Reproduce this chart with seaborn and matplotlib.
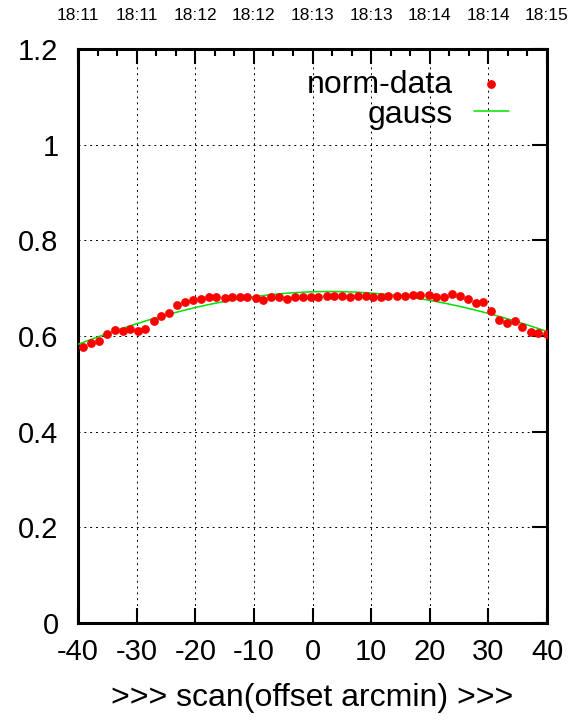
import numpy as np
import pandas as pd
import matplotlib
matplotlib.use("Agg")
import matplotlib.pyplot as plt
import seaborn as sns
from matplotlib.ticker import MultipleLocator

# ---- data ----
offset_arcmin = [-39.2, -37.8, -36.4, -35.1, -33.7, -32.4, -31.1, -29.8, -28.5, -27.0,
                 -25.8, -24.4, -23.1, -21.7, -20.4, -19.0, -17.7, -16.4, -15.0,
                 -13.8, -12.4, -11.1, -9.7, -8.4, -7.0, -5.7, -4.3, -3.0, -1.6,
                 -0.3, 1.0, 2.4, 3.7, 5.1, 6.4, 7.7, 9.1, 10.4, 11.7, 12.9,
                 14.4, 15.7, 17.1, 18.4, 19.8, 21.1, 22.4, 23.8, 25.2, 26.5,
                 27.9, 29.1, 30.4, 31.8, 33.1, 34.5, 35.8, 37.2, 38.5, 39.95]
norm_data = [0.576, 0.585, 0.589, 0.604, 0.613, 0.610, 0.615, 0.610, 0.615, 0.631,
             0.642, 0.649, 0.664, 0.672, 0.675, 0.678, 0.682, 0.682, 0.679,
             0.681, 0.681, 0.682, 0.680, 0.676, 0.681, 0.682, 0.678, 0.681, 0.682,
             0.682, 0.682, 0.684, 0.684, 0.684, 0.682, 0.684, 0.684, 0.682, 0.682, 0.684,
             0.684, 0.683, 0.686, 0.685, 0.686, 0.681, 0.682, 0.687, 0.684, 0.677,
             0.668, 0.671, 0.653, 0.633, 0.628, 0.632, 0.619, 0.609, 0.607, 0.604]
# fitted gaussian parameters
gauss_amp = 0.693
gauss_center = 3.0
gauss_sigma = 73.0

x_ticks = [-40, -30, -20, -10, 0, 10, 20, 30, 40]
y_ticks = [0, 0.2, 0.4, 0.6, 0.8, 1.0, 1.2]
y_tick_labels = ["0", "0.2", "0.4", "0.6", "0.8", "1", "1.2"]
time_labels = ["18:11", "18:11", "18:12", "18:12", "18:13", "18:13", "18:14", "18:14", "18:15"]

sns.set_theme(style="white")
plt.rcParams["font.family"] = ["Liberation Sans", "DejaVu Sans"]
plt.rcParams["text.color"] = "black"
plt.rcParams["axes.labelcolor"] = "black"

df = pd.DataFrame({"offset": offset_arcmin, "value": norm_data})
gx = np.linspace(-40, 40, 400)
gdf = pd.DataFrame({"offset": gx,
                    "value": gauss_amp * np.exp(-(gx - gauss_center) ** 2 / (2 * gauss_sigma ** 2))})

fig = plt.figure(figsize=(5.8, 7.23), dpi=100)
ax = fig.add_axes([78 / 580, 1 - 623 / 723, (547 - 78) / 580, (623 - 49) / 723])

FS = 21

ax.set_xlim(-40, 40)
ax.set_ylim(0, 1.2)
ax.set_xticks(x_ticks)
ax.set_xticklabels([str(t) for t in x_ticks])
ax.set_yticks(y_ticks)
ax.set_yticklabels(y_tick_labels)
ax.grid(True, color="black", linestyle=(0, (2, 4)), linewidth=0.7)
ax.set_axisbelow(True)

sns.lineplot(data=gdf, x="offset", y="value", ax=ax, color="#00e000", linewidth=1.1,
             label="gauss", zorder=3)
sns.scatterplot(data=df, x="offset", y="value", ax=ax, color="#ff0000", s=40,
                linewidth=0, label="norm-data", zorder=4)

ax.set_xlabel(">>> scan(offset arcmin) >>>", fontsize=23, labelpad=12)
ax.set_ylabel("")
ax.tick_params(axis="both", which="major", direction="in", length=11, width=1.5,
               labelsize=FS, color="black", labelcolor="black")
ax.tick_params(axis="x", pad=11)
ax.tick_params(axis="y", pad=14, right=True)
ax.tick_params(axis="x", top=False, bottom=True)
for sp in ax.spines.values():
    sp.set_visible(True)
    sp.set_color("black")
    sp.set_linewidth(2.2)

# top time axis
ax2 = ax.twiny()
ax2.set_xlim(-40, 40)
ax2.set_xticks(x_ticks)
ax2.set_xticklabels(time_labels)
ax2.xaxis.set_minor_locator(MultipleLocator(10 / 3))
ax2.tick_params(axis="x", which="major", direction="in", length=11, width=1.5,
                labelsize=12.5, pad=19, color="black", labelcolor="black")
ax2.tick_params(axis="x", which="minor", direction="in", length=5, width=1.5, color="black")
ax2.grid(False)
for sp in ax2.spines.values():
    sp.set_visible(False)

handles, labels = ax.get_legend_handles_labels()
order = [labels.index("norm-data"), labels.index("gauss")]
leg = ax.legend([handles[i] for i in order], [labels[i] for i in order],
                loc="upper right", bbox_to_anchor=(0.966, 1.003), markerfirst=False,
                frameon=False, fontsize=23, alignment="right", handlelength=1.1,
                handletextpad=0.65, labelspacing=0.0, borderpad=0.2)

fig.savefig("out.png", dpi=100)
